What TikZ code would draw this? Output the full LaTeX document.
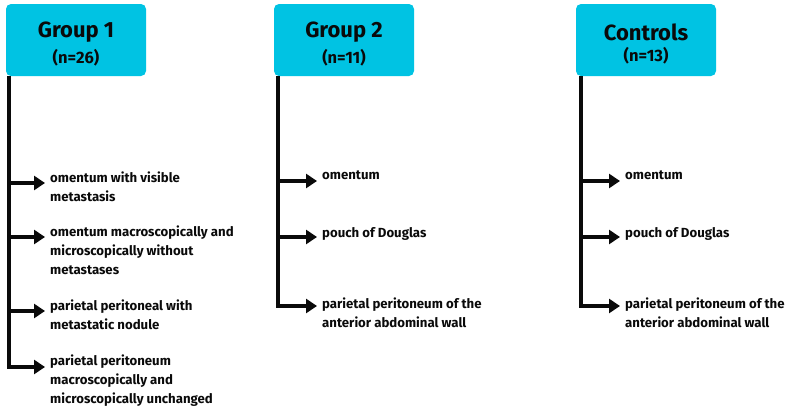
\documentclass[tikz,border=0pt]{standalone}
\usepackage{fontspec}
\setmainfont{Fira Sans}
\usepackage{tikz}
\usetikzlibrary{arrows.meta,calc,positioning}
\definecolor{Sky}{HTML}{00C3E3}
\definecolor{Ink}{HTML}{0A0A0A}

\tikzset{
  groupbox/.style={fill=Sky,rounded corners=5pt,minimum width=140pt,minimum height=72pt,
    inner sep=0pt},
  grouptext/.style={align=center,text=Ink},
  site/.style={anchor=north west,align=left,inner xsep=5pt,inner ysep=0pt,text=Ink,
    font=\fontsize{13.2}{18.7}\selectfont\bfseries},
  trunk/.style={draw=Ink,line width=3.4pt},
  branch/.style={trunk,-{Triangle[length=11pt,width=14pt]}}
}
\newcommand{\grouptitle}[2]{{\fontsize{22}{26}\selectfont\bfseries #1}\\[6pt]{\fontsize{16.5}{19}\selectfont\bfseries #2}}

\begin{document}
\begin{tikzpicture}[x=1pt,y=-1pt]
    \useasboundingbox (0,0) rectangle (785,415);

    % group 1
    \node[groupbox] (g1) at (76,40) {};
    \node[grouptext] (g1t) at (76,44) {\grouptitle{Group 1}{(n=26)}};
    \coordinate (g1top) at (9,76);
    \coordinate (g1b1) at (9,183);
    \coordinate (g1b2) at (9,237);
    \coordinate (g1b3) at (9,311);
    \coordinate (g1b4) at (9,367);
    \node[site] (g1s1) at (45,172) {omentum with visible\\metastasis};
    \node[site] (g1s2) at (45,226) {omentum macroscopically and\\microscopically without\\metastases};
    \node[site] (g1s3) at (45,300) {parietal peritoneal with\\metastatic nodule};
    \node[site] (g1s4) at (45,355) {parietal peritoneum\\macroscopically and\\microscopically unchanged};
    \draw[branch] (g1top) -- (g1b4) -- (g1b4 -| g1s4.west);
    \draw[branch] (g1b1) -- (g1b1 -| g1s1.west);
    \draw[branch] (g1b2) -- (g1b2 -| g1s2.west);
    \draw[branch] (g1b3) -- (g1b3 -| g1s3.west);

    % group 2
    \node[groupbox] (g2) at (344,40) {};
    \node[grouptext] (g2t) at (344,44) {\grouptitle{Group 2}{(n=11)}};
    \coordinate (g2top) at (278,76);
    \coordinate (g2b1) at (278,181);
    \coordinate (g2b2) at (278,237);
    \coordinate (g2b3) at (278,306);
    \node[site] (g2s1) at (317,171) {omentum};
    \node[site] (g2s2) at (317,227) {pouch of Douglas};
    \node[site] (g2s3) at (317,298) {parietal peritoneum of the\\anterior abdominal wall};
    \draw[branch] (g2top) -- (g2b3) -- (g2b3 -| g2s3.west);
    \draw[branch] (g2b1) -- (g2b1 -| g2s1.west);
    \draw[branch] (g2b2) -- (g2b2 -| g2s2.west);

    % controls
    \node[groupbox] (ctl) at (646,40) {};
    \node[grouptext] (ctlt) at (646,44) {\grouptitle{Controls}{(n=13)}};
    \coordinate (ctltop) at (581,76);
    \coordinate (ctlb1) at (581,181);
    \coordinate (ctlb2) at (581,237);
    \coordinate (ctlb3) at (581,306);
    \node[site] (ctls1) at (620,171) {omentum};
    \node[site] (ctls2) at (620,227) {pouch of Douglas};
    \node[site] (ctls3) at (620,298) {parietal peritoneum of the\\anterior abdominal wall};
    \draw[branch] (ctltop) -- (ctlb3) -- (ctlb3 -| ctls3.west);
    \draw[branch] (ctlb1) -- (ctlb1 -| ctls1.west);
    \draw[branch] (ctlb2) -- (ctlb2 -| ctls2.west);
  \end{tikzpicture}
\end{document}
